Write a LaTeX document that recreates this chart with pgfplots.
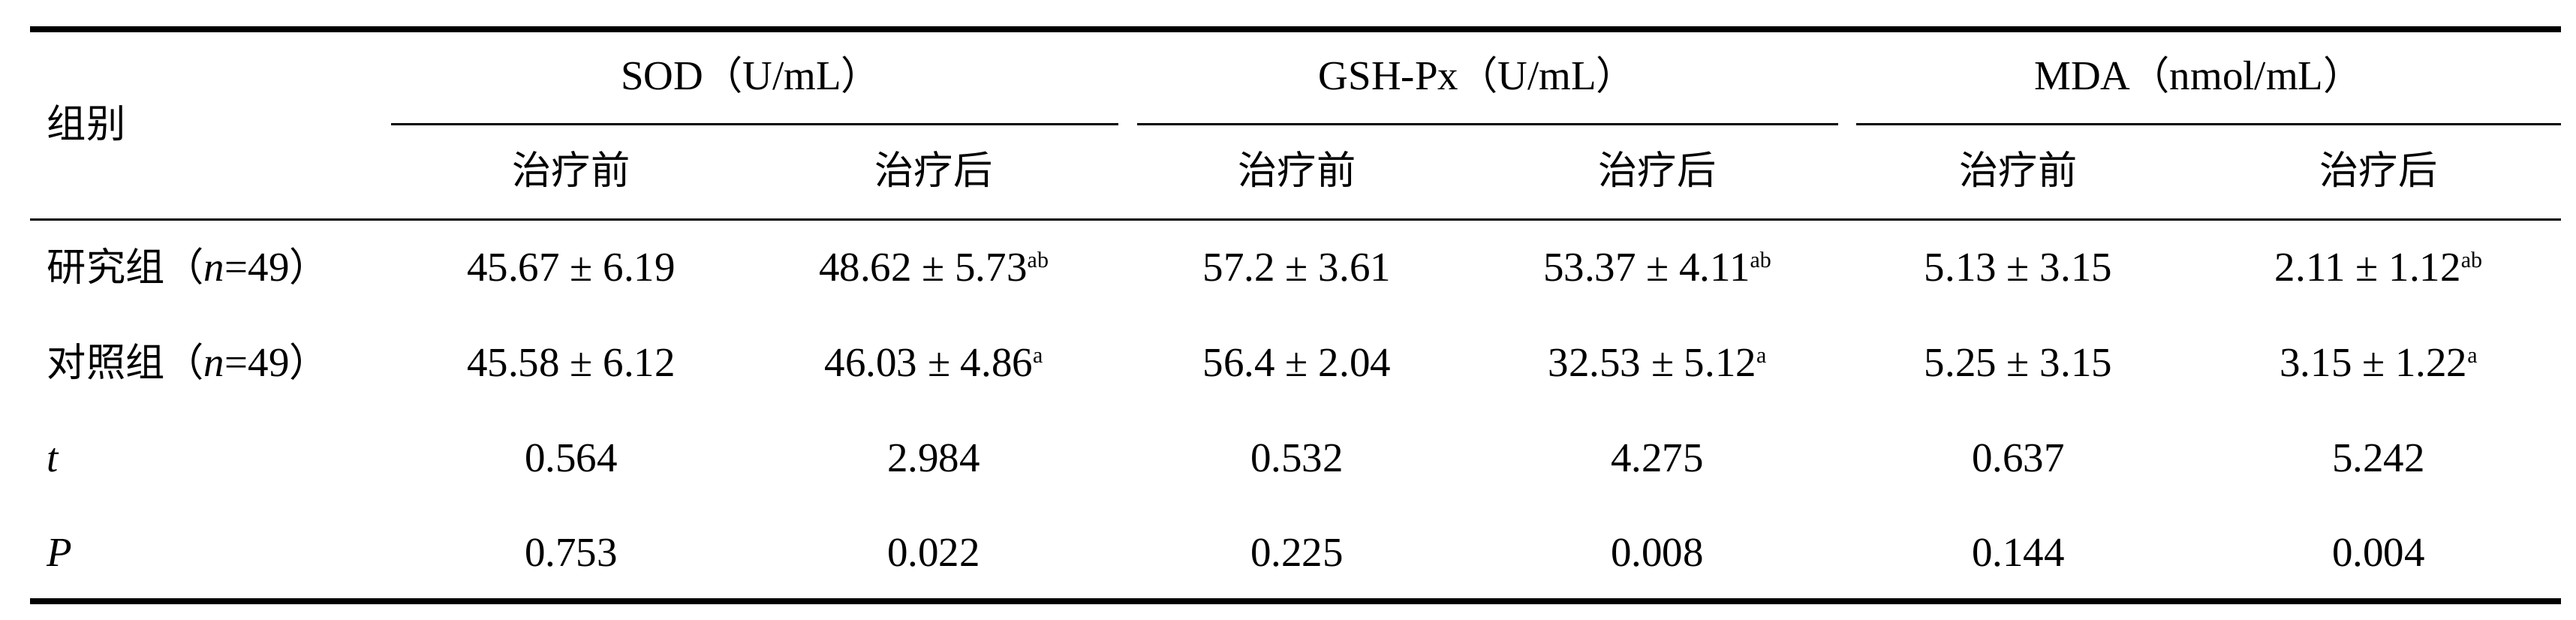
\documentclass[border=0pt]{standalone}
\usepackage{fontspec}
\setmainfont{Liberation Serif}
\newfontfamily\cjk{Noto Sans CJK SC}[Scale=0.95]
\usepackage{pgfplots}
\pgfplotsset{compat=1.18}
\tikzset{c/.style={anchor=base, inner sep=0pt, font=\fontsize{11}{13}\selectfont},
         l/.style={anchor=base west, inner sep=0pt, font=\fontsize{11}{13}\selectfont}}
\newcommand{\supr}[1]{\raisebox{3.6pt}{\fontsize{6}{7}\selectfont #1}}
\begin{document}
\begin{tikzpicture}
\begin{axis}[
  scale only axis, width=686.4pt, height=165.2pt,
  xmin=0, xmax=3432, ymin=0, ymax=826, y dir=reverse,
  hide axis, clip=false,
]
\addplot[draw=none] coordinates {(0,0) (3432,826)};
% rules
\addplot[black, line width=1.6pt] coordinates {(40,39) (3412,39)};
\addplot[black, line width=0.6pt] coordinates {(521,166) (1490,166)};
\addplot[black, line width=0.6pt] coordinates {(1515,166) (2449,166)};
\addplot[black, line width=0.6pt] coordinates {(2473,166) (3412,166)};
\addplot[black, line width=0.6pt] coordinates {(40,293) (3412,293)};
\addplot[black, line width=1.6pt] coordinates {(40,801) (3412,801)};
% header
\node[l] at (axis cs:62,184) {\cjk 组别};
\node[c] at (axis cs:1000,120) {SOD{\cjk （}U/mL{\cjk ）}};
\node[c] at (axis cs:1968,120) {GSH-Px{\cjk （}U/mL{\cjk ）}};
\node[c] at (axis cs:2929,120) {MDA{\cjk （}nmol/mL{\cjk ）}};
\node[c] at (axis cs:761,246) {\cjk 治疗前};
\node[c] at (axis cs:1244,246) {\cjk 治疗后};
\node[c] at (axis cs:1728,246) {\cjk 治疗前};
\node[c] at (axis cs:2208,246) {\cjk 治疗后};
\node[c] at (axis cs:2689,246) {\cjk 治疗前};
\node[c] at (axis cs:3169,246) {\cjk 治疗后};
% row labels
\node[l] at (axis cs:62,375) {{\cjk 研究组（}\textit{n}=49{\cjk ）}};
\node[l] at (axis cs:62,502) {{\cjk 对照组（}\textit{n}=49{\cjk ）}};
\node[l] at (axis cs:62,629) {\textit{t}};
\node[l] at (axis cs:62,755) {\textit{P}};
% row 1
\node[c] at (axis cs:761,375) {45.67 ± 6.19};
\node[c] at (axis cs:1244,375) {48.62 ± 5.73\supr{ab}};
\node[c] at (axis cs:1728,375) {57.2 ± 3.61};
\node[c] at (axis cs:2208,375) {53.37 ± 4.11\supr{ab}};
\node[c] at (axis cs:2689,375) {5.13 ± 3.15};
\node[c] at (axis cs:3169,375) {2.11 ± 1.12\supr{ab}};
% row 2
\node[c] at (axis cs:761,502) {45.58 ± 6.12};
\node[c] at (axis cs:1244,502) {46.03 ± 4.86\supr{a}};
\node[c] at (axis cs:1728,502) {56.4 ± 2.04};
\node[c] at (axis cs:2208,502) {32.53 ± 5.12\supr{a}};
\node[c] at (axis cs:2689,502) {5.25 ± 3.15};
\node[c] at (axis cs:3169,502) {3.15 ± 1.22\supr{a}};
% row 3
\node[c] at (axis cs:761,629) {0.564};
\node[c] at (axis cs:1244,629) {2.984};
\node[c] at (axis cs:1728,629) {0.532};
\node[c] at (axis cs:2208,629) {4.275};
\node[c] at (axis cs:2689,629) {0.637};
\node[c] at (axis cs:3169,629) {5.242};
% row 4
\node[c] at (axis cs:761,755) {0.753};
\node[c] at (axis cs:1244,755) {0.022};
\node[c] at (axis cs:1728,755) {0.225};
\node[c] at (axis cs:2208,755) {0.008};
\node[c] at (axis cs:2689,755) {0.144};
\node[c] at (axis cs:3169,755) {0.004};
\end{axis}
\end{tikzpicture}
\end{document}
